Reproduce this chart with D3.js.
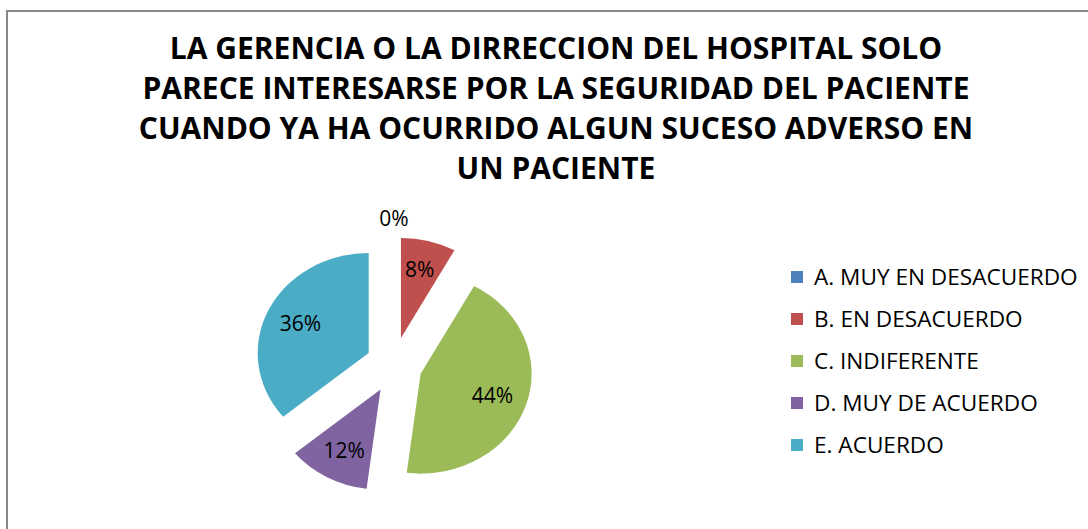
<!DOCTYPE html>
<html>
<head>
<meta charset="utf-8">
<script src="https://cdn.jsdelivr.net/npm/d3@7"></script>
<style>
  body { margin: 0; background: #fff; }
</style>
</head>
<body>
<script>
var categories = ["A. MUY EN DESACUERDO", "B. EN DESACUERDO", "C. INDIFERENTE", "D. MUY DE ACUERDO", "E. ACUERDO"];
var values = [0, 8, 44, 12, 36];
var colors = ["#4f81bd", "#c0504d", "#9bbb59", "#8064a2", "#4bacc6"];
var titleLines = ["LA GERENCIA O LA DIRRECCION DEL HOSPITAL SOLO",
                  "PARECE INTERESARSE POR LA SEGURIDAD DEL PACIENTE",
                  "CUANDO YA HA OCURRIDO ALGUN SUCESO ADVERSO EN",
                  "UN PACIENTE"];

var width = 1088, height = 529;

var svg = d3.select("body").append("svg")
    .attr("width", width)
    .attr("height", height);

// chart border (right and bottom fall outside the window)
svg.append("rect")
    .attr("x", 7).attr("y", 11)
    .attr("width", 1200).attr("height", 600)
    .attr("fill", "#fff")
    .attr("stroke", "#888")
    .attr("stroke-width", 2);

// title
svg.append("g").selectAll("text")
    .data(titleLines)
    .enter().append("text")
    .attr("x", 556)
    .attr("y", function(d, i) { return 59 + i * 40; })
    .attr("text-anchor", "middle")
    .attr("font-family", "Open Sans, sans-serif")
    .attr("font-weight", "bold")
    .attr("font-size", "30px")
    .attr("fill", "#000")
    .text(function(d) { return d; });

// pie
var cx = 394, cy = 365, ry = 100, sx = 1.11, explode = 28;

var pie = d3.pie().sort(null).value(function(d) { return d; });
var arcs = pie(values);
var arc = d3.arc().innerRadius(0).outerRadius(ry);

var slices = svg.append("g").selectAll("g")
    .data(arcs)
    .enter().append("g")
    .attr("transform", function(d) {
      var a = (d.startAngle + d.endAngle) / 2;
      return "translate(" + (cx + explode * Math.sin(a)) + "," + (cy - explode * Math.cos(a)) + ") scale(" + sx + ",1)";
    });

slices.append("path")
    .attr("d", arc)
    .attr("fill", function(d, i) { return colors[i]; });

// labels
svg.append("g").selectAll("text")
    .data(arcs)
    .enter().append("text")
    .attr("x", function(d) {
      var a = (d.startAngle + d.endAngle) / 2;
      var r = d.value === 0 ? ry * 1.18 : ry * 0.68;
      return cx + explode * Math.sin(a) + r * sx * Math.sin(a);
    })
    .attr("y", function(d) {
      var a = (d.startAngle + d.endAngle) / 2;
      var r = d.value === 0 ? ry * 1.18 : ry * 0.7;
      return cy - explode * Math.cos(a) - r * Math.cos(a);
    })
    .attr("dy", "0.35em")
    .attr("text-anchor", "middle")
    .attr("font-family", "Open Sans, sans-serif")
    .attr("font-size", "21px")
    .attr("fill", "#000")
    .text(function(d) { return d.value + "%"; });

// legend
var legend = svg.append("g").selectAll("g")
    .data(categories)
    .enter().append("g")
    .attr("transform", function(d, i) { return "translate(791," + (277 + i * 42) + ")"; });

legend.append("rect")
    .attr("x", 0).attr("y", -6)
    .attr("width", 12).attr("height", 12)
    .attr("fill", function(d, i) { return colors[i]; });

legend.append("text")
    .attr("x", 23)
    .attr("dy", "0.35em")
    .attr("font-family", "Open Sans, sans-serif")
    .attr("font-size", "22.6px")
    .attr("fill", "#000")
    .text(function(d) { return d; });
</script>
</body>
</html>
